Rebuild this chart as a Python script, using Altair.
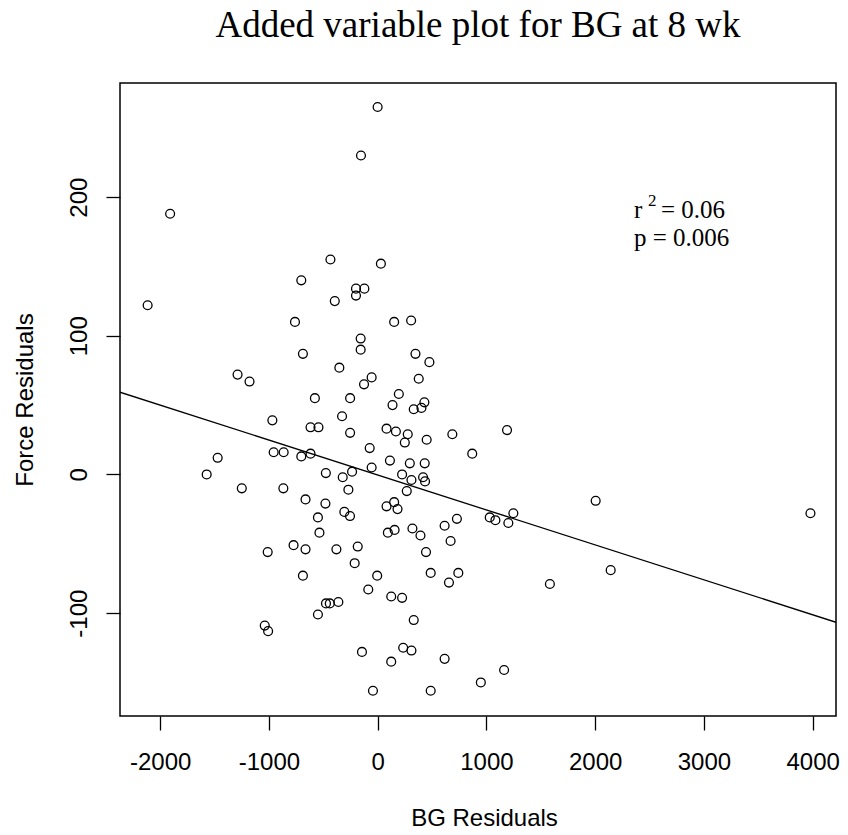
import altair as alt
import pandas as pd

# Residual values
bg_resid = [-1908, -434, -702, 0, -153, 30, -2115, -394, -760, -687, -352, -1288, -1178, -577,
            -327, -968, -617, -544, -253, -253, -956, -864, -702, -617, -1471, -1572, -476, -321,
            -1249, -867, -663, -480, -199, -122, -199, 152, 308, -156, -156, 348, 476, 378, -55,
            -125, 195, 137, 430, 332, 403, 82, 168, 277, 250, 451, 687, 1190, 870, -73, 113, 296,
            433, -55, -235, 225, 311, 418, 436, -269, 268, -306, -254, 82, 152, 183, 94, 156, 320,
            394, 616, 729, 671, 1031, 1083, 1248, 1202, -379, -183, -211, 445, -4, 488, 742, 656,
            1584, -86, 125, 225, -475, -440, -361, 332, -144, 235, 311, 125, 616, 1163, 949, -43,
            488, -549, -535, -773, -663, -1011, -687, -549, -1038, -1007, 2005, 3980, 2143]
force_resid = [188, 155, 140, 265, 230, 152, 122, 125, 110, 87, 77, 72, 67, 55,
               42, 39, 34, 34, 55, 30, 16, 16, 13, 15, 12, 0, 1, -2,
               -10, -10, -18, -21, 134, 134, 129, 110, 111, 98, 90, 87, 81, 69, 70,
               65, 58, 50, 52, 47, 48, 33, 31, 29, 23, 25, 29, 32, 15, 19, 10, 8,
               8, 5, 2, 0, -4, -2, -5, -11, -12, -27, -30, -23, -20, -25, -42, -40, -39,
               -44, -37, -32, -48, -31, -33, -28, -35, -54, -52, -64, -56, -73, -71, -71, -78,
               -79, -83, -88, -89, -93, -93, -92, -105, -128, -125, -127, -135, -133, -141, -150, -156,
               -156, -31, -42, -51, -54, -56, -73, -101, -109, -113, -19, -28, -69]

# Fitted line read at the two edges of the plot box
fit_x = [-2369, 4215]
fit_y = [59.3, -106.6]

x_ticks = [-2000, -1000, 0, 1000, 2000, 3000, 4000]
y_ticks = [-100, 0, 100, 200]
x_domain = [-2369, 4215]
y_domain = [-174.2, 282.3]

title_text = "Added variable plot for BG at 8 wk"
x_title = "BG Residuals"
y_title = "Force Residuals"
r_label = ["r"]
r_sup = ["2"]
r_value = ["= 0.06"]
p_label = ["p = 0.006"]

W, H = 716, 633
SANS = "Liberation Sans"
SERIF = "Liberation Serif"

pts = pd.DataFrame({"bg": bg_resid, "force": force_resid})
fit = pd.DataFrame({"bg": fit_x, "force": fit_y})

xscale = alt.Scale(domain=x_domain, nice=False, zero=False)
yscale = alt.Scale(domain=y_domain, nice=False, zero=False)

xaxis = alt.Axis(values=x_ticks, labelExpr="'' + datum.value", grid=False, domain=False,
                 tickColor="black", tickSize=14, tickWidth=1.3,
                 labelFont=SANS, labelFontSize=24, labelColor="black",
                 labelBaseline="alphabetic", labelPadding=39, labelFlush=False,
                 title=x_title, titleFont=SANS, titleFontSize=24, titleFontWeight="normal",
                 titleColor="black", titleBaseline="alphabetic", titleY=109, titleX=364,
                 titleAlign="center")
yaxis = alt.Axis(values=y_ticks, labelExpr="'' + datum.value", grid=False, domain=False,
                 tickColor="black", tickSize=14, tickWidth=1.3,
                 labelFont=SANS, labelFontSize=24, labelColor="black",
                 labelAngle=270, labelAlign="center", labelBaseline="alphabetic",
                 labelPadding=20, labelFlush=False,
                 title=y_title, titleFont=SANS, titleFontSize=24, titleFontWeight="normal",
                 titleColor="black", titleAngle=270, titleBaseline="alphabetic",
                 titleAlign="center", titleX=-88, titleY=H / 2)

points = alt.Chart(pts).mark_point(shape="circle", filled=False, color="black",
                                   size=78, strokeWidth=1.3, opacity=1).encode(
    x=alt.X("bg:Q", scale=xscale, axis=xaxis),
    y=alt.Y("force:Q", scale=yscale, axis=yaxis),
)

line = alt.Chart(fit).mark_line(color="black", strokeWidth=1.3, clip=True).encode(
    x=alt.X("bg:Q", scale=xscale),
    y=alt.Y("force:Q", scale=yscale),
)

def label(values, x, y, size):
    df = pd.DataFrame({"t": values})
    return alt.Chart(df).mark_text(font=SERIF, fontSize=size, color="black",
                                   align="left", baseline="alphabetic").encode(
        text="t:N", x=alt.value(x), y=alt.value(y))

ann = (label(r_label, 514, 135, 25) + label(r_sup, 528, 123, 17)
       + label(r_value, 541, 135, 25) + label(p_label, 514, 163, 25))

chart = alt.layer(line, points, ann).properties(
    width=W, height=H,
    title=alt.TitleParams(title_text, font=SERIF, fontSize=37, fontWeight="normal",
                          color="black", anchor="middle", offset=38),
    autosize=alt.AutoSizeParams(type="none"),
    padding={"left": 112, "top": 75, "right": 4, "bottom": 110},
).configure(
    background="white",
    view=alt.ViewConfig(stroke="black", strokeWidth=1.5),
)

chart.save("out.html", embed_options={"renderer": "svg", "actions": False})
